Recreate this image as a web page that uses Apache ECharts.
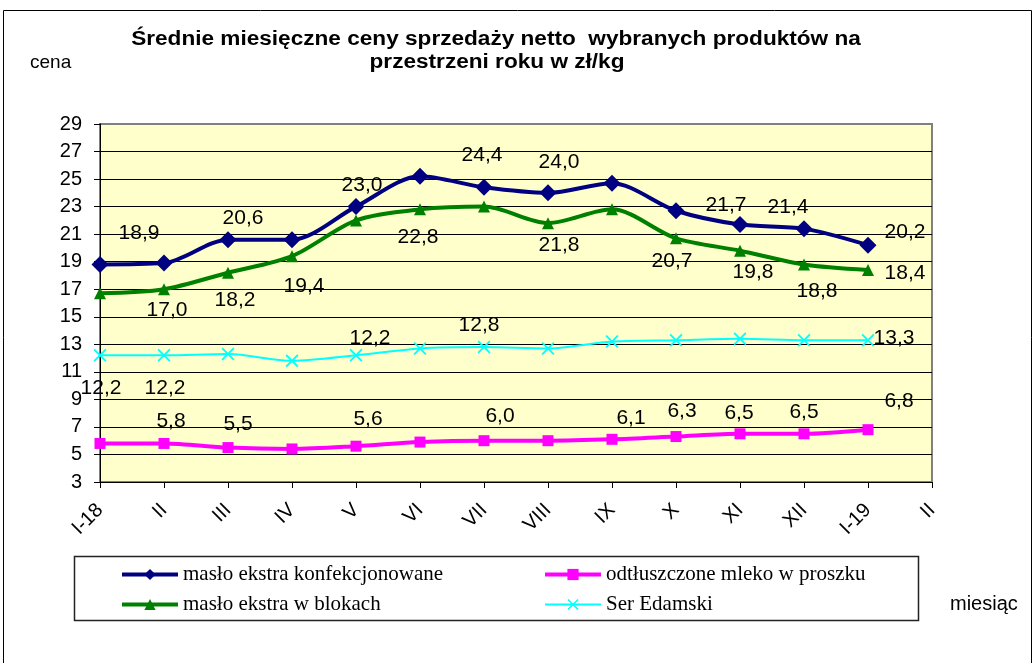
<!DOCTYPE html>
<html>
<head>
<meta charset="utf-8">
<title>Średnie miesięczne ceny sprzedaży netto</title>
<script src="https://cdn.jsdelivr.net/npm/echarts@6/dist/echarts.min.js"></script>
<style>
  html, body { margin: 0; padding: 0; background: #fff; }
  #chart { width: 1035px; height: 663px; }
</style>
</head>
<body>
<div id="chart"></div>
<script>
// miesiące (ostatnie "II" bez danych, tylko oś)
const months = ['I-18', 'II', 'III', 'IV', 'V', 'VI', 'VII', 'VIII', 'IX', 'X', 'XI', 'XII', 'I-19', 'II'];

// ceny w zł/kg
const masloKonf = [18.8, 18.9, 20.6, 20.6, 23.0, 25.2, 24.4, 24.0, 24.7, 22.7, 21.7, 21.4, 20.2];
const masloBlok = [16.7, 17.0, 18.2, 19.4, 22.0, 22.8, 23.0, 21.8, 22.8, 20.7, 19.8, 18.8, 18.4];
const mleko = [5.8, 5.8, 5.5, 5.4, 5.6, 5.9, 6.0, 6.0, 6.1, 6.3, 6.5, 6.5, 6.8];
const ser = [12.2, 12.2, 12.3, 11.8, 12.2, 12.7, 12.8, 12.7, 13.2, 13.3, 13.4, 13.3, 13.3];

// oś Y
const yMin = 3, yMax = 29, yStep = 2;

const names = ['masło ekstra konfekcjonowane', 'masło ekstra w blokach', 'odtłuszczone mleko w proszku', 'Ser Edamski'];

// które punkty mają etykietę i przesunięcie etykiety [dx, dy] (px)
const blueLabels = { 1: [-25, -30], 2: [15, -21], 4: [6, -21], 6: [-2, -32], 7: [11, -31], 10: [-14, -19], 11: [-16, -21], 12: [37, -13] };
const greenLabels = { 1: [3, 21], 2: [7, 27], 3: [12, 30], 5: [-2, 28], 7: [11, 22], 9: [-4, 23], 10: [13, 22], 11: [13, 27], 12: [37, 3] };
const pinkLabels = { 1: [7, -22], 2: [10, -23], 4: [12, -27], 6: [16, -24], 8: [19, -21], 9: [6, -25], 10: [-1, -21], 11: [0, -22], 12: [31, -28] };
const cyanLabels = { 0: [1, 33], 1: [1, 33], 4: [14, -17], 6: [-5, -22], 12: [26, -2] };

function withLabels(values, offsets) {
  return values.map(function (v, i) {
    if (offsets[i]) {
      return { value: v, label: { show: true, offset: offsets[i] } };
    }
    return v;
  });
}

const labelBase = {
  show: false,
  position: 'inside',
  align: 'center',
  verticalAlign: 'middle',
  color: '#000',
  fontFamily: 'Arial, "Liberation Sans", sans-serif',
  fontSize: 21,
  textBorderWidth: 0,
  formatter: function (p) { return p.value.toFixed(1).replace('.', ','); }
};

// kolory linii siatki, ostatnia (góra) szara jak ramka
const splitColors = [];
for (let v = yMin; v <= yMax; v += yStep) splitColors.push(v === yMax ? '#808080' : '#000');

const chart = echarts.init(document.getElementById('chart'), null, { renderer: 'canvas' });

const crossPath = 'path://M0,1L1,0L5,4L9,0L10,1L6,5L10,9L9,10L5,6L1,10L0,9L4,5Z';

const legendText = { fontFamily: '"Liberation Serif", "Times New Roman", serif', fontSize: 21, color: '#000', lineHeight: 20 };
const sans = 'Arial, "Liberation Sans", sans-serif';

const option = {
  animation: false,
  backgroundColor: '#fff',
  graphic: [
    { type: 'rect', shape: { x: 3.5, y: 10.5, width: 1028, height: 700 }, style: { fill: null, stroke: '#000', lineWidth: 1 }, z: -10 },
    { type: 'rect', shape: { x: 74.5, y: 556.5, width: 844, height: 64 }, style: { fill: null, stroke: '#222', lineWidth: 1.5 }, z: -5 },
    { type: 'text', x: 496, y: 39, scaleX: 1.13, style: { text: 'Średnie miesięczne ceny sprzedaży netto  wybranych produktów na', font: 'bold 20px ' + sans, textAlign: 'center', textVerticalAlign: 'middle', fill: '#000' } },
    { type: 'text', x: 497, y: 62, scaleX: 1.13, style: { text: 'przestrzeni roku w zł/kg', font: 'bold 20px ' + sans, textAlign: 'center', textVerticalAlign: 'middle', fill: '#000' } },
    { type: 'text', x: 30, y: 63, style: { text: 'cena', font: '19px ' + sans, textAlign: 'left', textVerticalAlign: 'middle', fill: '#000' } },
    { type: 'text', x: 950, y: 604, style: { text: 'miesiąc', font: '20px ' + sans, textAlign: 'left', textVerticalAlign: 'middle', fill: '#000' } }
  ],
  legend: [
    {
      data: [
        { name: names[0], lineStyle: { width: 4 } },
        { name: names[1], lineStyle: { width: 4 } }
      ],
      orient: 'vertical', left: 120, top: 564, itemWidth: 56, itemHeight: 14, itemGap: 9, padding: 0,
      selectedMode: false, textStyle: legendText
    },
    {
      data: [
        { name: names[2], lineStyle: { width: 4 } },
        { name: names[3], lineStyle: { width: 2 } }
      ],
      orient: 'vertical', left: 543, top: 564, itemWidth: 56, itemHeight: 14, itemGap: 9, padding: 0,
      selectedMode: false, textStyle: legendText
    }
  ],
  grid: {
    left: 100, top: 124, width: 832, height: 358,
    show: true, backgroundColor: '#FFFFCC', borderColor: '#808080', borderWidth: 2
  },
  xAxis: {
    type: 'category',
    data: months,
    boundaryGap: false,
    axisLine: { lineStyle: { color: '#000', width: 1 } },
    axisTick: { show: true, length: 6, lineStyle: { color: '#000' } },
    axisLabel: { rotate: 45, margin: 25, color: '#000', fontSize: 20, fontFamily: sans, interval: 0 },
    splitLine: { show: false }
  },
  yAxis: {
    type: 'value',
    min: yMin, max: yMax, interval: yStep,
    axisLine: { show: true, lineStyle: { color: '#000', width: 1 } },
    axisTick: { show: true, length: 6, lineStyle: { color: '#000' } },
    axisLabel: { margin: 18, color: '#000', fontSize: 20, fontFamily: sans },
    splitLine: { show: true, lineStyle: { color: splitColors, width: 1 } }
  },
  series: [
    {
      name: names[0], type: 'line', smooth: 0.3,
      data: withLabels(masloKonf, blueLabels),
      symbol: 'diamond', symbolSize: 17,
      itemStyle: { color: '#000080' },
      lineStyle: { color: '#000080', width: 4 },
      label: labelBase, z: 4
    },
    {
      name: names[1], type: 'line', smooth: 0.3,
      data: withLabels(masloBlok, greenLabels),
      symbol: 'triangle', symbolSize: 12,
      itemStyle: { color: '#008000' },
      lineStyle: { color: '#008000', width: 4 },
      label: labelBase, z: 3
    },
    {
      name: names[2], type: 'line', smooth: 0.3,
      data: withLabels(mleko, pinkLabels),
      symbol: 'rect', symbolSize: 11,
      itemStyle: { color: '#FF00FF' },
      lineStyle: { color: '#FF00FF', width: 4 },
      label: labelBase, z: 3
    },
    {
      name: names[3], type: 'line', smooth: 0.3,
      data: withLabels(ser, cyanLabels),
      symbol: crossPath, symbolSize: 13,
      itemStyle: { color: '#00FFFF' },
      lineStyle: { color: '#00FFFF', width: 2 },
      label: labelBase, z: 3
    }
  ]
};

chart.setOption(option);
</script>
</body>
</html>
